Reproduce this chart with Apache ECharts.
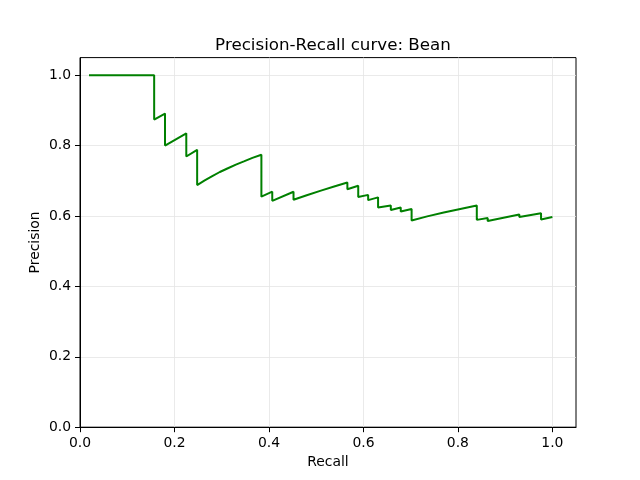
<!DOCTYPE html>
<html>
<head>
<meta charset="utf-8">
<script src="https://cdn.jsdelivr.net/npm/echarts@6/dist/echarts.min.js"></script>
<style>html,body{margin:0;padding:0;background:#fff}#c{width:640px;height:480px}</style>
</head>
<body>
<div id="c"></div>
<script>
const titleText = 'Precision-Recall curve: Bean';
const xName = 'Recall';
const yName = 'Precision';
const tickValues = [0, 0.2, 0.4, 0.6, 0.8, 1.0];
const recall = [0.019,0.157,0.157,0.180,0.180,0.225,0.225,0.248,0.248,0.264,0.280,0.296,0.312,0.330,0.347,0.365,0.384,0.384,0.407,0.407,0.452,0.452,0.480,0.510,0.538,0.566,0.566,0.589,0.589,0.610,0.610,0.631,0.631,0.658,0.658,0.679,0.679,0.702,0.702,0.735,0.770,0.805,0.840,0.840,0.863,0.863,0.930,0.930,0.976,0.976,1.000];
const precision = [1.000,1.000,0.874,0.891,0.800,0.835,0.769,0.788,0.688,0.701,0.713,0.725,0.735,0.746,0.755,0.765,0.774,0.655,0.669,0.643,0.669,0.646,0.659,0.672,0.684,0.695,0.676,0.686,0.654,0.660,0.645,0.653,0.624,0.630,0.617,0.624,0.613,0.620,0.587,0.599,0.610,0.620,0.630,0.589,0.594,0.586,0.604,0.597,0.608,0.590,0.597];

const data = recall.map((r, i) => [r, precision[i]]);
const font = 'DejaVu Sans';
function axis(name, gap) {
  return {
    type: 'value', min: 0, max: 1.05, interval: 0.2,
    name: name, nameLocation: 'middle', nameGap: gap, nameMoveOverlap: false,
    nameTextStyle: {fontFamily: font, fontSize: 13.9, color: '#000'},
    axisLine: {show: true, onZero: false, lineStyle: {color: '#000', width: 1}},
    axisTick: {show: true, length: 5, customValues: tickValues, lineStyle: {color: '#000', width: 1}},
    axisLabel: {fontFamily: font, fontSize: 13.9, color: '#000', margin: 9, customValues: tickValues,
      formatter: v => v.toFixed(1)},
    splitLine: {show: true, lineStyle: {color: '#e5e5e5', width: 0.8}}
  };
}
const chart = echarts.init(document.getElementById('c'), null, {renderer: 'canvas'});
chart.setOption({
  animation: false,
  backgroundColor: '#fff',
  title: {text: titleText, left: 328, top: 32, textAlign: 'center',
    textStyle: {fontFamily: font, fontSize: 16.7, fontWeight: 'normal', color: '#000'}},
  grid: {left: 80, right: 64, top: 57.6, bottom: 52.8, show: true, borderColor: '#000', borderWidth: 1, backgroundColor: 'transparent'},
  xAxis: axis(xName, 28),
  yAxis: axis(yName, 38),
  series: [{type: 'line', data: data, showSymbol: false, lineStyle: {color: '#008000', width: 2}, itemStyle: {color: '#008000'}}]
});
</script>
</body>
</html>
